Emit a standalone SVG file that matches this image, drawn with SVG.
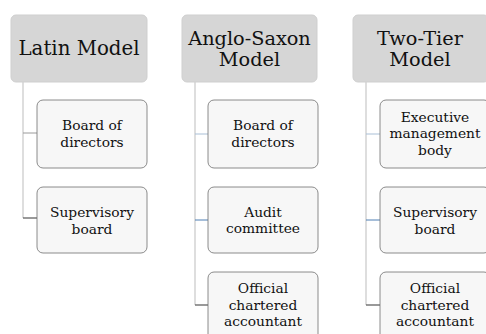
<svg xmlns="http://www.w3.org/2000/svg" width="486" height="334" viewBox="0 0 486 334">
<style>
.hdr{fill:#d6d6d6;stroke:#cfcfcf;stroke-width:1}
.box{fill:#f7f7f7;stroke:#6e6e6e;stroke-width:0.8}
.ht{font-family:"DejaVu Serif","Liberation Serif",serif;font-size:19.3px;fill:#111;text-anchor:middle}
.ct{font-family:"DejaVu Serif","Liberation Serif",serif;font-size:13.8px;fill:#111;text-anchor:middle}
.v{stroke:#c8c8c8;stroke-width:1.2;fill:none}
.c1{stroke:#a9bfd6;stroke-width:1;fill:none}
.c2{stroke:#4f7fb3;stroke-width:1;fill:none}
.c3{stroke:#555;stroke-width:1.2;fill:none}
.c0{stroke:#9a9a9a;stroke-width:1;fill:none}
</style>
<rect width="486" height="334" fill="#fff"/>
<g id="connectors">
<path class="v" d="M23 82V218"/>
<path class="c0" d="M23 133H37"/>
<path class="c3" d="M23 218H37"/>
<path class="v" d="M195 82V305"/>
<path class="c1" d="M195 134H208"/>
<path class="c2" d="M195 220H208"/>
<path class="c3" d="M195 305H208"/>
<path class="v" d="M366 82V305"/>
<path class="c1" d="M366 134H380"/>
<path class="c2" d="M366 220H380"/>
<path class="c3" d="M366 305H380"/>
</g>
<g id="latin">
<rect class="hdr" x="11" y="15" width="136" height="67" rx="5"/>
<text class="ht" x="79" y="55" style="font-size:19.8px">Latin Model</text>
</g>
<g id="latin-board">
<rect class="box" x="37" y="100" width="110" height="68" rx="6"/>
<text class="ct" x="92" y="130">Board of</text>
<text class="ct" x="92" y="147">directors</text>
</g>
<g id="latin-supervisory">
<rect class="box" x="37" y="187" width="110" height="66" rx="6"/>
<text class="ct" x="92" y="217">Supervisory</text>
<text class="ct" x="92" y="234">board</text>
</g>
<g id="anglo">
<rect class="hdr" x="182" y="15" width="135" height="67" rx="5"/>
<text class="ht" x="249.5" y="44.5">Anglo-Saxon</text>
<text class="ht" x="249.5" y="65.5">Model</text>
</g>
<g id="anglo-board">
<rect class="box" x="208" y="100" width="110" height="68" rx="6"/>
<text class="ct" x="263" y="130">Board of</text>
<text class="ct" x="263" y="147">directors</text>
</g>
<g id="anglo-audit">
<rect class="box" x="208" y="187" width="110" height="66" rx="6"/>
<text class="ct" x="263" y="217">Audit</text>
<text class="ct" x="263" y="233">committee</text>
</g>
<g id="anglo-accountant">
<rect class="box" x="208" y="272" width="110" height="70" rx="6"/>
<text class="ct" x="263" y="293">Official</text>
<text class="ct" x="263" y="310">chartered</text>
<text class="ct" x="263" y="326">accountant</text>
</g>
<g id="twotier">
<rect class="hdr" x="353" y="15" width="136" height="67" rx="5"/>
<text class="ht" x="420" y="44.5">Two-Tier</text>
<text class="ht" x="420" y="65.5">Model</text>
</g>
<g id="twotier-executive">
<rect class="box" x="380" y="100" width="110" height="68" rx="6"/>
<text class="ct" x="435" y="122">Executive</text>
<text class="ct" x="435" y="138">management</text>
<text class="ct" x="435" y="155">body</text>
</g>
<g id="twotier-supervisory">
<rect class="box" x="380" y="187" width="110" height="66" rx="6"/>
<text class="ct" x="435" y="217">Supervisory</text>
<text class="ct" x="435" y="234">board</text>
</g>
<g id="twotier-accountant">
<rect class="box" x="380" y="272" width="110" height="70" rx="6"/>
<text class="ct" x="435" y="293">Official</text>
<text class="ct" x="435" y="310">chartered</text>
<text class="ct" x="435" y="326">accountant</text>
</g>
</svg>
